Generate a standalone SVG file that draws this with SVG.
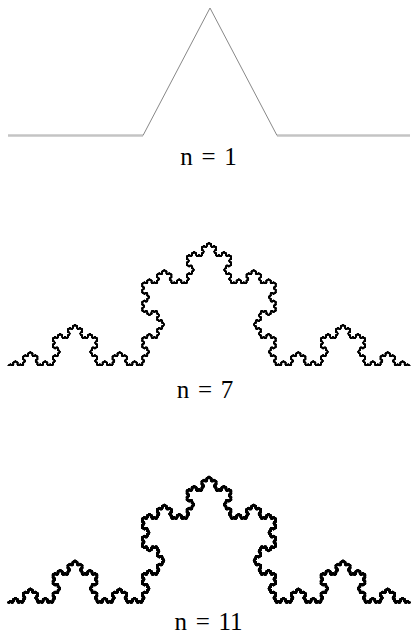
<svg xmlns="http://www.w3.org/2000/svg" xmlns:xlink="http://www.w3.org/1999/xlink" width="411" height="634" viewBox="0 0 411 634">
<style>
.lbl{font-family:"Liberation Serif","Times New Roman",serif;font-size:25px;fill:#000;text-anchor:middle;word-spacing:2.5px}
.base{stroke:#c4c4c4;stroke-width:2.4;fill:none}
.slope{stroke:#888;stroke-width:1;fill:none}
.koch{stroke:#000;fill:none;stroke-linecap:round}
</style>
<defs>
<g id="k0"><line x1="0" y1="0" x2="1" y2="0"/></g>
<g id="k1"><use href="#k0" transform="scale(0.3333333)"/><use href="#k0" transform="translate(0.3333333,0) rotate(-60) scale(0.3333333)"/><use href="#k0" transform="translate(0.5,-0.2886751) rotate(60) scale(0.3333333)"/><use href="#k0" transform="translate(0.6666667,0) scale(0.3333333)"/></g>
<g id="k2"><use href="#k1" transform="scale(0.3333333)"/><use href="#k1" transform="translate(0.3333333,0) rotate(-60) scale(0.3333333)"/><use href="#k1" transform="translate(0.5,-0.2886751) rotate(60) scale(0.3333333)"/><use href="#k1" transform="translate(0.6666667,0) scale(0.3333333)"/></g>
<g id="k3"><use href="#k2" transform="scale(0.3333333)"/><use href="#k2" transform="translate(0.3333333,0) rotate(-60) scale(0.3333333)"/><use href="#k2" transform="translate(0.5,-0.2886751) rotate(60) scale(0.3333333)"/><use href="#k2" transform="translate(0.6666667,0) scale(0.3333333)"/></g>
<g id="k4"><use href="#k3" transform="scale(0.3333333)"/><use href="#k3" transform="translate(0.3333333,0) rotate(-60) scale(0.3333333)"/><use href="#k3" transform="translate(0.5,-0.2886751) rotate(60) scale(0.3333333)"/><use href="#k3" transform="translate(0.6666667,0) scale(0.3333333)"/></g>
<g id="k5"><use href="#k4" transform="scale(0.3333333)"/><use href="#k4" transform="translate(0.3333333,0) rotate(-60) scale(0.3333333)"/><use href="#k4" transform="translate(0.5,-0.2886751) rotate(60) scale(0.3333333)"/><use href="#k4" transform="translate(0.6666667,0) scale(0.3333333)"/></g>
<g id="k6"><use href="#k5" transform="scale(0.3333333)"/><use href="#k5" transform="translate(0.3333333,0) rotate(-60) scale(0.3333333)"/><use href="#k5" transform="translate(0.5,-0.2886751) rotate(60) scale(0.3333333)"/><use href="#k5" transform="translate(0.6666667,0) scale(0.3333333)"/></g>
<g id="k7"><use href="#k6" transform="scale(0.3333333)"/><use href="#k6" transform="translate(0.3333333,0) rotate(-60) scale(0.3333333)"/><use href="#k6" transform="translate(0.5,-0.2886751) rotate(60) scale(0.3333333)"/><use href="#k6" transform="translate(0.6666667,0) scale(0.3333333)"/></g>
</defs>
<rect width="411" height="634" fill="#fff"/>
<g id="curve-n1">
<line class="base" x1="8" y1="135.5" x2="143" y2="135.5"/>
<line class="base" x1="277" y1="135.5" x2="410" y2="135.5"/>
<polyline class="slope" points="143,135.5 210,8 277,135.5"/>
<text class="lbl" x="208.5" y="165">n = 1</text>
</g>
<g id="curve-n7">
<use class="koch" href="#k7" stroke-width="5" transform="translate(8,365.5) scale(402,426)"/>
<text class="lbl" x="205" y="398">n = 7</text>
</g>
<g id="curve-n11">
<use class="koch" href="#k7" stroke-width="9" transform="translate(8,602.5) scale(402,436)"/>
<text class="lbl" x="208.5" y="630">n = 11</text>
</g>
</svg>
